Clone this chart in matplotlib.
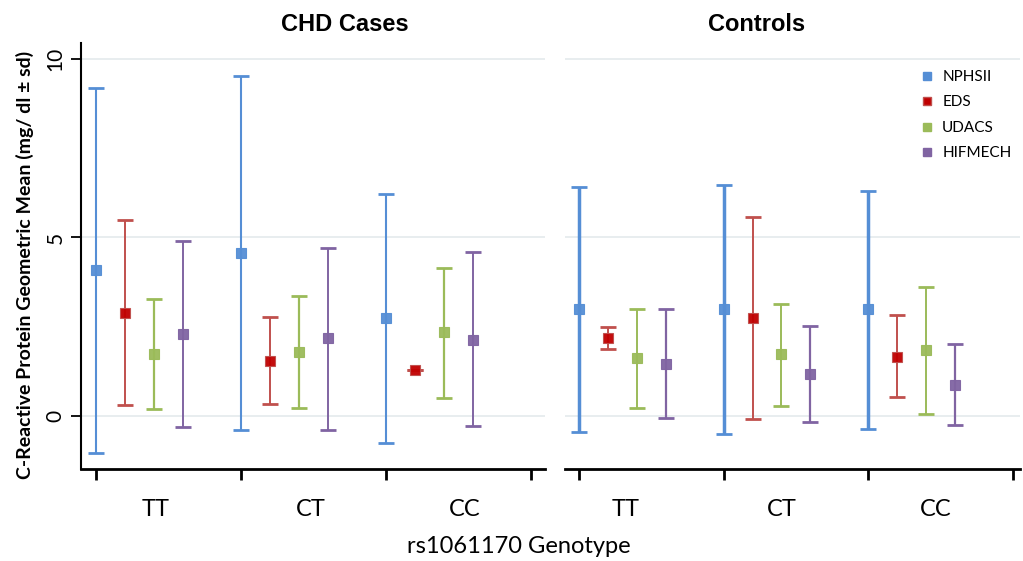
import numpy as np
import matplotlib
matplotlib.use("Agg")
import matplotlib.pyplot as plt
from matplotlib.lines import Line2D

plt.rcParams['font.family'] = ['Lato', 'DejaVu Sans']

# data: geometric mean, lower and upper end of the bar
genotypes = ["TT", "CT", "CC"]
studies = ["NPHSII", "EDS", "UDACS", "HIFMECH"]

# CHD cases, rows = study, columns = genotype
cases_mean = [[4.09, 4.57, 2.75],
              [2.90, 1.56, 1.31],
              [1.73, 1.79, 2.35],
              [2.30, 2.18, 2.13]]
cases_low = [[-1.03, -0.38, -0.74],
             [0.32, 0.34, 1.31],
             [0.20, 0.23, 0.52],
             [-0.31, -0.38, -0.27]]
cases_high = [[9.19, 9.51, 6.21],
              [5.50, 2.77, 1.31],
              [3.27, 3.36, 4.16],
              [4.90, 4.71, 4.60]]

# controls
ctrl_mean = [[2.99, 2.99, 2.99],
             [2.18, 2.75, 1.66],
             [1.63, 1.73, 1.85],
             [1.46, 1.18, 0.89]]
ctrl_low = [[-0.43, -0.49, -0.35],
            [1.87, -0.08, 0.54],
            [0.23, 0.29, 0.06],
            [-0.05, -0.17, -0.25]]
ctrl_high = [[6.41, 6.47, 6.30],
             [2.50, 5.58, 2.82],
             [3.01, 3.15, 3.62],
             [2.99, 2.54, 2.03]]

line_colors = ["#558ED5", "#C0504D", "#9BBB59", "#8064A2"]
marker_colors = ["#558ED5", "#C00000", "#9BBB59", "#8064A2"]
offsets = [0.0, 0.2, 0.4, 0.6]

fig = plt.figure(figsize=(10.23, 5.61), dpi=100)
ax1 = fig.add_axes([0.0792, 0.164, 0.4536, 0.759])
ax2 = fig.add_axes([0.5523, 0.164, 0.4448, 0.759])


def draw_panel(ax, mean, low, high, widths):
    for i, name in enumerate(studies):
        x = np.arange(len(genotypes)) + offsets[i]
        m = np.array(mean[i])
        lo = m - np.array(low[i])
        hi = np.array(high[i]) - m
        ax.errorbar(x, m, yerr=[lo, hi], fmt="none", ecolor=line_colors[i],
                    elinewidth=widths[i], capsize=6, capthick=2, zorder=3)
        ax.plot(x, m, "s", ms=7.5, color=marker_colors[i],
                mec=line_colors[i], mew=0.8, alpha=0.95, zorder=4)
    ax.set_ylim(-1.47, 10.43)
    ax.set_xticks([0, 1, 2, 3])
    ax.set_xticklabels([])
    ax.tick_params(axis="x", direction="out", length=8, width=2, color="black")
    ax.set_yticks([0, 5, 10])
    ax.grid(axis="y", color="#E6ECEE", linewidth=1.3)
    ax.set_axisbelow(True)
    for s in ["top", "right"]:
        ax.spines[s].set_visible(False)
    ax.spines["bottom"].set_linewidth(2)


draw_panel(ax1, cases_mean, cases_low, cases_high, [1.5, 1.4, 1.6, 1.4])
draw_panel(ax2, ctrl_mean, ctrl_low, ctrl_high, [2.5, 1.4, 1.4, 1.6])

ax1.set_xlim(-0.103, 3.097)
ax2.set_xlim(-0.097, 3.05)

ax1.spines["left"].set_linewidth(1.5)
ax1.tick_params(axis="y", direction="out", length=7, width=1.3, labelsize=15,
                labelrotation=90, pad=4)
for lab in ax1.get_yticklabels():
    lab.set_verticalalignment("center")

ax2.spines["left"].set_visible(False)
ax2.tick_params(axis="y", left=False, labelleft=False)

# genotype labels under each panel
for ax, pos in [(ax1, [0.41, 1.48, 2.54]), (ax2, [0.32, 1.40, 2.47])]:
    for p, g in zip(pos, genotypes):
        ax.text(p, -0.095, g, transform=ax.get_xaxis_transform(),
                ha="center", va="center", fontsize=17)

ax1.text(0.569, 1.045, "CHD Cases", transform=ax1.transAxes, ha="center",
         va="center", fontsize=17, fontweight="bold", family="Liberation Sans")
ax2.text(0.422, 1.045, "Controls", transform=ax2.transAxes, ha="center",
         va="center", fontsize=17, fontweight="bold", family="Liberation Sans")

fig.text(0.507, 0.025, "rs1061170 Genotype", ha="center", va="center", fontsize=17)
fig.text(0.024, 0.527, "C-Reactive Protein Geometric Mean (mg/ dl \u00b1 sd)",
         rotation=90, ha="center", va="center", fontsize=14, fontweight="bold")

handles = [Line2D([], [], ls="none", marker="s", ms=6, color=marker_colors[i],
                  mec=line_colors[i]) for i in range(len(studies))]
ax2.legend(handles, studies, loc="upper left", bbox_to_anchor=(0.765, 0.955),
           frameon=False, fontsize=11, handlelength=0.8, handletextpad=0.6,
           labelspacing=0.75, borderpad=0)

fig.savefig("out.png", dpi=100)
